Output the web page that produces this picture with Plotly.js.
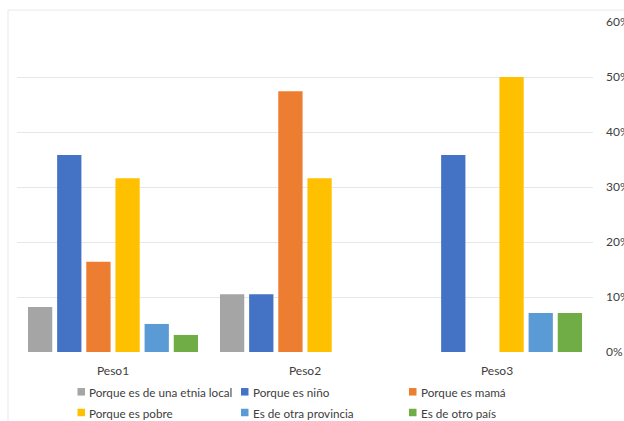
<!DOCTYPE html>
<html>
<head>
<meta charset="utf-8">
<script src="https://cdn.plot.ly/plotly-3.0.1.min.js"></script>
<style>html,body{margin:0;padding:0;background:#fff;}#chart{width:624px;height:421px;}</style>
</head>
<body>
<div id="chart"></div>
<script>
var categories = ["Peso1", "Peso2", "Peso3"];
var seriesNames = ["Porque es de una etnia local", "Porque es niño", "Porque es mamá", "Porque es pobre", "Es de otra provincia", "Es de otro país"];
var etniaLocal = [0.082, 0.105, null];
var nino = [0.358, 0.105, 0.358];
var mama = [0.164, 0.474, null];
var pobre = [0.316, 0.316, 0.50];
var otraProvincia = [0.051, null, 0.071];
var otroPais = [0.031, null, 0.071];
var seriesColors = ["#a5a5a5", "#4472c4", "#ed7d31", "#ffc000", "#5b9bd5", "#70ad47"];
var tickVals = [0, 0.1, 0.2, 0.3, 0.4, 0.5, 0.6];
var tickText = ["0%", "10%", "20%", "30%", "40%", "50%", "60%"];

var allValues = [etniaLocal, nino, mama, pobre, otraProvincia, otroPais];
var traces = allValues.map(function (vals, i) {
  return {
    type: "bar",
    name: seriesNames[i],
    x: categories,
    y: vals,
    marker: { color: seriesColors[i], line: { width: 0 } },
    hoverinfo: "skip",
    showlegend: false
  };
});

// Legend drawn as shapes + text annotations, 3 columns x 2 rows
var plotL = 17, plotW = 576, plotB = 352, plotH = 330;
var colPx = [77.5, 241, 409];
var rowPx = [391.8, 412.5];
var shapes = [{
  type: "rect",
  xref: "paper", yref: "paper",
  x0: -0.0156, x1: 1.2, y0: -0.4, y1: 1.036,
  line: { color: "#e6e9ef", width: 1 },
  fillcolor: "rgba(0,0,0,0)",
  layer: "below"
}];
var annotations = [];
seriesNames.forEach(function (name, i) {
  var col = i % 3, row = Math.floor(i / 3);
  var xp = (colPx[col] - plotL) / plotW;
  var yp = (plotB - rowPx[row]) / plotH;
  shapes.push({
    type: "rect",
    xref: "paper", yref: "paper",
    xsizemode: "pixel", ysizemode: "pixel",
    xanchor: xp, yanchor: yp,
    x0: 0, x1: 7.5, y0: -3.75, y1: 3.75,
    fillcolor: seriesColors[i],
    line: { width: 0 }
  });
  annotations.push({
    xref: "paper", yref: "paper",
    x: xp + 9.5 / plotW, y: yp,
    xanchor: "left", yanchor: "middle",
    showarrow: false,
    text: name,
    font: { size: 11.7, color: "#404040" }
  });
});

var layout = {
  width: 624,
  height: 421,
  margin: { l: 17, r: 31, t: 22, b: 69, autoexpand: false },
  paper_bgcolor: "#ffffff",
  plot_bgcolor: "#ffffff",
  font: { family: "Lato, 'Open Sans', sans-serif", size: 12, color: "#404040" },
  barmode: "group",
  bargap: 0.089,
  bargroupgap: 0.167,
  showlegend: false,
  xaxis: {
    type: "category",
    showgrid: false,
    showline: false,
    zeroline: false,
    ticks: "",
    tickfont: { size: 12, color: "#404040" },
    ticklabelstandoff: 10
  },
  yaxis: {
    side: "right",
    range: [0, 0.6],
    tickvals: tickVals,
    ticktext: tickText,
    showgrid: true,
    gridcolor: "#e3e7ee",
    gridwidth: 1,
    zeroline: false,
    showline: false,
    ticks: "",
    ticklabelstandoff: 12,
    tickfont: { size: 12, color: "#404040" }
  },
  shapes: shapes,
  annotations: annotations
};

Plotly.newPlot("chart", traces, layout, { staticPlot: true, displayModeBar: false });
</script>
</body>
</html>
